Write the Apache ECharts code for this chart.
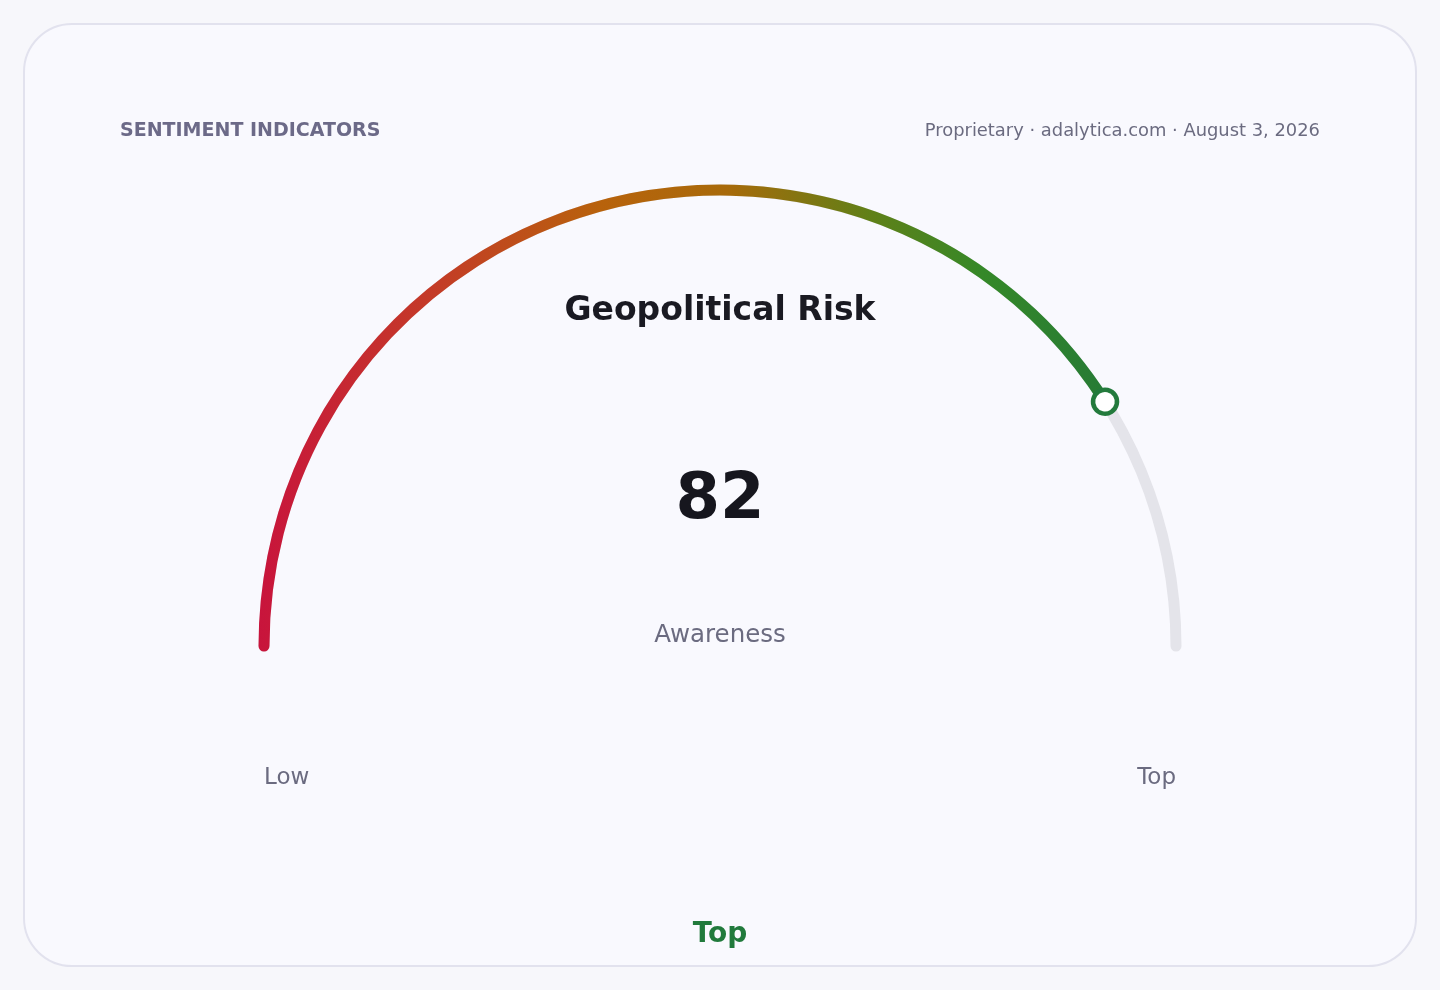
<!DOCTYPE html>
<html>
<head>
<meta charset="utf-8">
<script src="https://cdn.jsdelivr.net/npm/echarts@6/dist/echarts.min.js"></script>
<style>
html,body{margin:0;padding:0;background:#f7f7fb;}
#chart{width:1440px;height:990px;}
</style>
</head>
<body>
<div id="chart"></div>
<script>
const gaugeName = 'Awareness';
const gaugeValue = [82];
const gaugeMin = 0;
const gaugeMax = 100;
const tickLabels = ['Low', 'Top'];
const chartTitle = 'Geopolitical Risk';
const headerLeft = 'SENTIMENT INDICATORS';
const headerRight = 'Proprietary · adalytica.com · August 3, 2026';
const levelLabel = 'Top';

const FONT = 'DejaVu Sans';
const chart = echarts.init(document.getElementById('chart'));

const gradient = new echarts.graphic.LinearGradient(0, 0, 1, 0, [
  { offset: 0, color: '#c8143c' },
  { offset: 0.2, color: '#c43a28' },
  { offset: 0.4, color: '#b8620c' },
  { offset: 0.55, color: '#a86a0a' },
  { offset: 0.72, color: '#5f8018' },
  { offset: 0.85, color: '#358828' },
  { offset: 1, color: '#267a36' }
]);

const CENTER = [720, 646];
const RADIUS = 461.5;

chart.setOption({
  animation: false,
  backgroundColor: '#f7f7fb',
  graphic: [
    { type: 'rect', z: 0, silent: true,
      shape: { x: 24, y: 24, width: 1392, height: 942, r: 48 },
      style: { fill: '#f9f9fe', stroke: '#e2e2ee', lineWidth: 2 } },
    { type: 'text', z: 5, x: 120, y: 131,
      style: { text: headerLeft, fill: '#6c6a88', font: 'bold 19px "DejaVu Sans"', textAlign: 'left', textVerticalAlign: 'middle' } },
    { type: 'text', z: 5, x: 1320, y: 131,
      style: { text: headerRight, fill: '#6b6b80', font: '17.9px "DejaVu Sans"', textAlign: 'right', textVerticalAlign: 'middle' } },
    { type: 'text', z: 5, x: 720, y: 311,
      style: { text: chartTitle, fill: '#1a1a22', font: 'bold 33px "DejaVu Sans"', textAlign: 'center', textVerticalAlign: 'middle' } },
    { type: 'text', z: 5, x: 720, y: 935,
      style: { text: levelLabel, fill: '#217a3c', font: 'bold 28px "DejaVu Sans"', textAlign: 'center', textVerticalAlign: 'middle' } }
  ],
  series: [{
    type: 'gauge',
    z: 3,
    center: CENTER,
    radius: RADIUS,
    startAngle: 180,
    endAngle: 0,
    min: gaugeMin,
    max: gaugeMax,
    splitNumber: tickLabels.length - 1,
    progress: { show: true, width: 11, roundCap: true, itemStyle: { color: gradient } },
    axisLine: { roundCap: true, lineStyle: { width: 11, color: [[1, '#e4e4ea']] } },
    axisTick: { show: false },
    splitLine: { show: false, length: 0, distance: 0 },
    axisLabel: {
      show: true,
      distance: 5.5,
      color: '#6b6b80',
      fontSize: 23,
      fontFamily: FONT,
      lineHeight: 264,
      formatter: function (v) { return '\n' + (v <= gaugeMin ? tickLabels[0] : tickLabels[tickLabels.length - 1]); }
    },
    pointer: { show: false },
    anchor: { show: false },
    title: { show: true, offsetCenter: [0, -10], fontSize: 24.5, color: '#6b6b80', fontFamily: FONT },
    detail: {
      show: true,
      offsetCenter: [0, -145],
      fontSize: 64,
      fontWeight: 'bold',
      color: '#16161e',
      fontFamily: FONT,
      formatter: '{value}'
    },
    data: [{ value: gaugeValue[0], name: gaugeName }]
  }, {
    type: 'gauge',
    z: 6,
    center: CENTER,
    radius: RADIUS,
    startAngle: 180,
    endAngle: 0,
    min: gaugeMin,
    max: gaugeMax,
    progress: { show: false },
    axisLine: { show: false },
    axisTick: { show: false },
    splitLine: { show: false },
    axisLabel: { show: false },
    pointer: {
      show: true,
      icon: 'circle',
      length: 24,
      width: 24,
      keepAspect: true,
      offsetCenter: [0, -444],
      itemStyle: { color: '#ffffff', borderColor: '#237a3c', borderWidth: 4.5 }
    },
    anchor: { show: false },
    title: { show: false },
    detail: { show: false },
    data: [{ value: gaugeValue[0], name: gaugeName }]
  }]
});
</script>
</body>
</html>
